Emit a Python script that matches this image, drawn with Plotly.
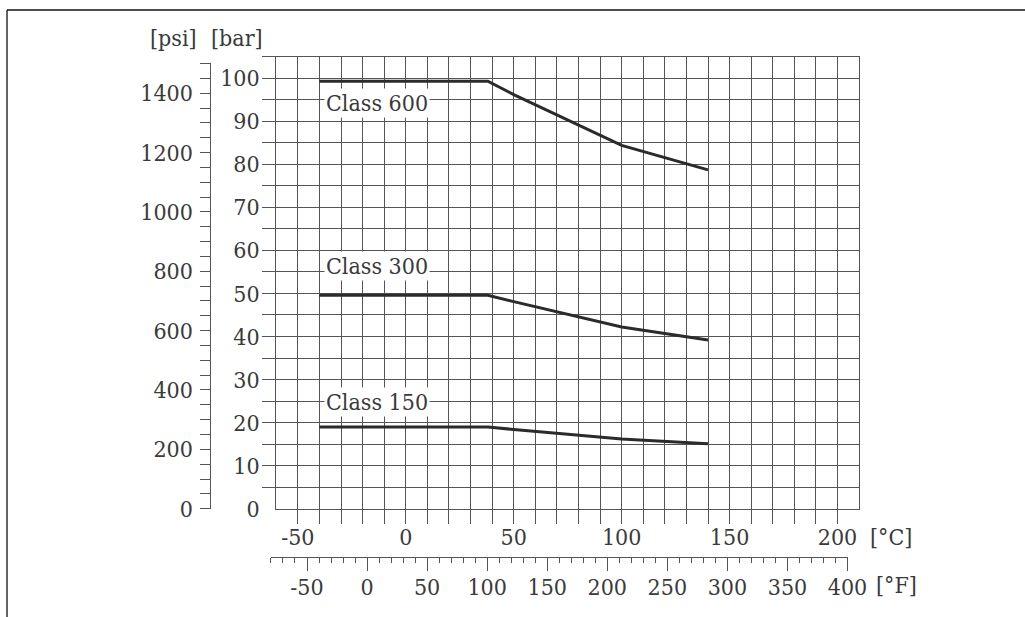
import plotly.graph_objects as go

# Pressure-temperature rating per flange class: temperature (°C) and pressure (bar)
temp_c = [-40, 38, 50, 100, 140]
class_150 = [19.0, 19.0, 18.4, 16.2, 15.1]
class_300 = [49.6, 49.6, 48.1, 42.2, 39.2]
class_600 = [99.3, 99.3, 96.2, 84.4, 78.7]
class_names = ["Class 150", "Class 300", "Class 600"]
class_label_bar = [24.9, 56.4, 94.2]

# Tick labels
bar_ticks = [0, 10, 20, 30, 40, 50, 60, 70, 80, 90, 100]
celsius_ticks = [-50, 0, 50, 100, 150, 200]
psi_ticks = [0, 200, 400, 600, 800, 1000, 1200, 1400]
fahrenheit_ticks = [-50, 0, 50, 100, 150, 200, 250, 300, 350, 400]

# Page geometry (pixels)
PAGE_W, PAGE_H = 1025, 617
FIG_W, FIG_H = 1046, 630
PLOT_L, PLOT_R, PLOT_T, PLOT_B = 276, 858.3, 56.7, 508.7
BAR_MAX = 105
PSI_PER_BAR = 14.5038
PSI_MAX = 1500


def fx(px):
    return px / PAGE_W


def fy(py):
    return (PAGE_H - py) / PAGE_H


psi_top_px = PLOT_B - (PSI_MAX / PSI_PER_BAR) / BAR_MAX * (PLOT_B - PLOT_T)

FONT = "DejaVu Serif Condensed, DejaVu Serif, serif"
TEXT = "#3a3a3a"
GRID = "#555555"
CURVE = "#2b2b2b"
FSIZE = 23

fig = go.Figure()

for name, values in zip(class_names, [class_150, class_300, class_600]):
    fig.add_trace(go.Scatter(
        x=temp_c, y=values, mode="lines", name=name,
        line=dict(color=CURVE, width=3), hoverinfo="skip",
    ))

# carrier for the secondary psi / °F scales
fig.add_trace(go.Scatter(x=[], y=[], xaxis="x2", yaxis="y2", hoverinfo="skip"))

tickfont = dict(family=FONT, size=FSIZE, color=TEXT)

fig.update_layout(
    width=FIG_W, height=FIG_H,
    margin=dict(l=0, r=0, t=0, b=0),
    paper_bgcolor="white", plot_bgcolor="rgba(0,0,0,0)",
    showlegend=False,
    font=dict(family=FONT, size=FSIZE, color=TEXT),
    xaxis=dict(
        domain=[fx(PLOT_L), fx(PLOT_R)], range=[-60, 210], anchor="y",
        showline=True, mirror=True, linecolor=GRID, linewidth=1,
        tickmode="array", tickvals=celsius_ticks,
        ticktext=[str(v) for v in celsius_ticks],
        ticks="", showgrid=True, gridcolor=GRID, gridwidth=1, zeroline=False,
        tickfont=tickfont, ticklabelstandoff=8,
        minor=dict(tickmode="array", tickvals=list(range(-50, 201, 10)),
                   ticks="outside", ticklen=14, tickcolor=GRID, tickwidth=1,
                   showgrid=True, gridcolor=GRID, gridwidth=1),
    ),
    yaxis=dict(
        domain=[fy(PLOT_B), fy(PLOT_T)], range=[0, BAR_MAX], anchor="x",
        showline=True, mirror=True, linecolor=GRID, linewidth=1,
        tickmode="array", tickvals=bar_ticks,
        ticktext=[str(v) for v in bar_ticks],
        ticks="", showgrid=True, gridcolor=GRID, gridwidth=1, zeroline=False,
        tickfont=tickfont, ticklabelstandoff=11,
        minor=dict(tickmode="array", tickvals=list(range(5, 106, 5)),
                   ticks="outside", ticklen=13, tickcolor=GRID, tickwidth=1,
                   showgrid=True, gridcolor=GRID, gridwidth=1),
    ),
    xaxis2=dict(
        domain=[fx(270.7), fx(846.7)], range=[-80, 400],
        anchor="free", position=fy(556.7), side="bottom",
        showline=True, linecolor=GRID, linewidth=1,
        tickmode="array", tickvals=[-70] + fahrenheit_ticks,
        ticktext=[""] + [str(v) for v in fahrenheit_ticks],
        ticks="outside", ticklen=13, tickcolor=GRID, tickwidth=1,
        showgrid=False, zeroline=False, tickfont=tickfont,
        ticklabelstandoff=-3,
        minor=dict(tickmode="array", tickvals=list(range(-80, 401, 10)),
                   ticks="outside", ticklen=5, tickcolor=GRID, tickwidth=1,
                   showgrid=False),
    ),
    yaxis2=dict(
        domain=[fy(PLOT_B), fy(psi_top_px)], range=[0, PSI_MAX],
        anchor="free", position=fx(209.3), side="left",
        showline=True, linecolor=GRID, linewidth=1,
        tickmode="array", tickvals=psi_ticks,
        ticktext=[str(v) for v in psi_ticks],
        ticks="outside", ticklen=10, tickcolor=GRID, tickwidth=1,
        showgrid=False, zeroline=False, tickfont=tickfont,
        ticklabelstandoff=2,
        minor=dict(tickmode="array", tickvals=list(range(0, PSI_MAX + 1, 50)),
                   ticks="outside", ticklen=10, tickcolor=GRID, tickwidth=1,
                   showgrid=False),
    ),
)

# unit captions
units = [
    ("[psi]", fx(173), fy(38), "center"),
    ("[bar]", fx(236.7), fy(38), "center"),
    ("[°C]", fx(867), fy(537), "left"),
    ("[°F]", fx(873), fy(585), "left"),
]
for text, x, y, anchor in units:
    fig.add_annotation(text=text, x=x, y=y, xref="paper", yref="paper",
                       xanchor=anchor, yanchor="middle", showarrow=False,
                       font=dict(family=FONT, size=FSIZE, color=TEXT))

# class labels with a white backing over the grid
for name, yb in zip(class_names, class_label_bar):
    fig.add_annotation(text=name, x=temp_c[0], y=yb, xref="x", yref="y",
                       xanchor="left", yanchor="middle", xshift=5,
                       showarrow=False, bgcolor="white", borderpad=1,
                       font=dict(family=FONT, size=FSIZE, color=TEXT))

# outer frame: top and left edges
frame = dict(color="#111111", width=1.3)
fig.add_shape(type="line", xref="paper", yref="paper",
              x0=fx(7), x1=1, y0=fy(10), y1=fy(10), line=frame)
fig.add_shape(type="line", xref="paper", yref="paper",
              x0=fx(7), x1=fx(7), y0=fy(10), y1=0, line=frame)

fig.write_html("out.html")
